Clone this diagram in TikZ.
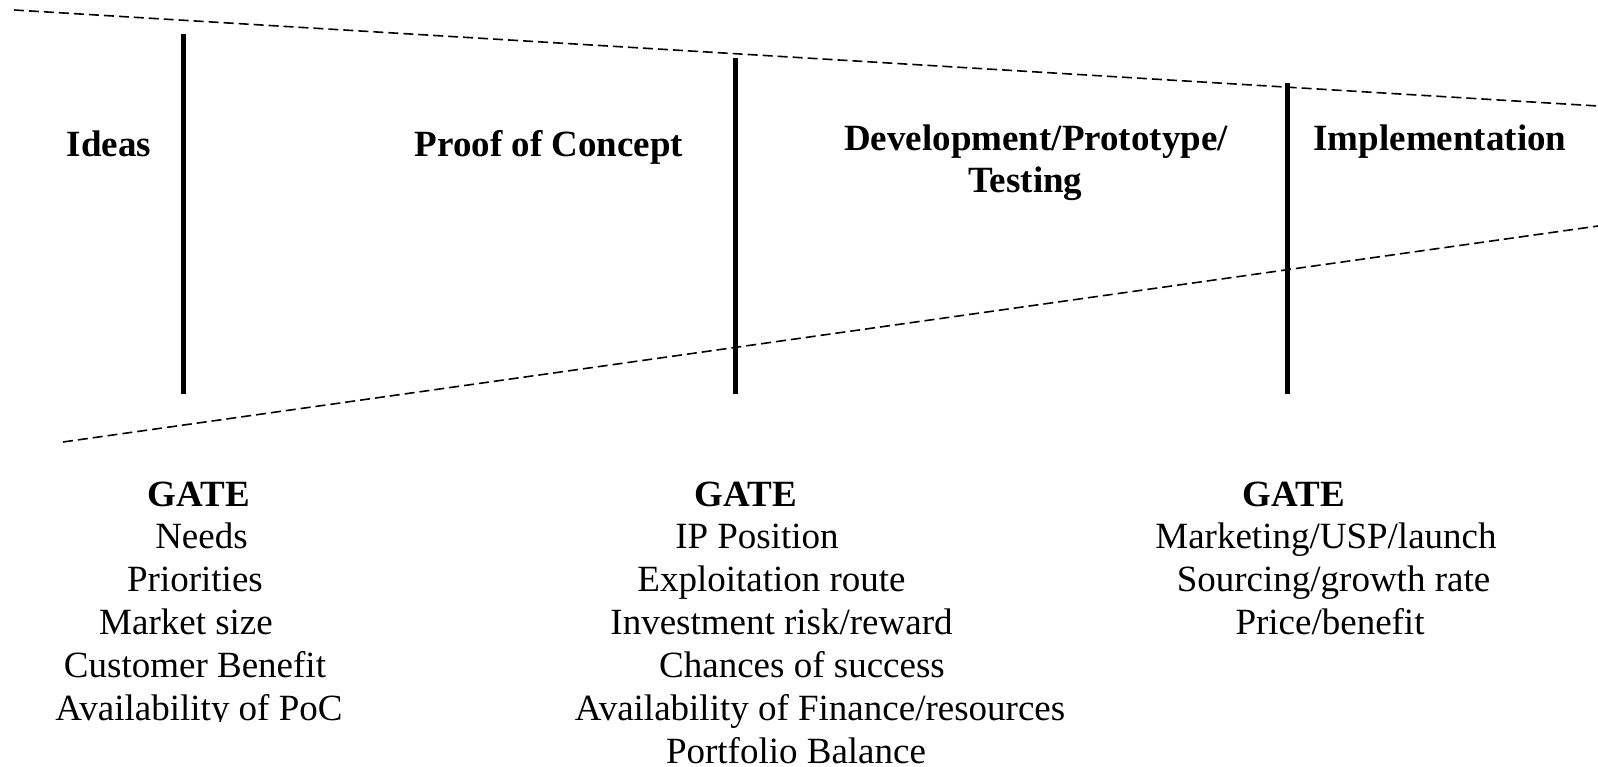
\documentclass[tikz,border=0pt]{standalone}
\usepackage{fontspec}
\setmainfont{Liberation Serif}
\begin{document}
\begin{tikzpicture}[x=1pt,y=-1pt,
  lbl/.style={anchor=base,inner sep=0pt,font=\fontsize{37}{42.6}\selectfont},
  head/.style={anchor=base,inner sep=0pt,font=\fontsize{37}{42.6}\selectfont\bfseries},
  gatebar/.style={line width=5pt},
  bound/.style={line width=1.6pt,dash pattern=on 10pt off 5pt}]
\useasboundingbox (0,0) rectangle (1598,767);
% funnel boundaries
\coordinate (tl) at (14,10);  \coordinate (tr) at (1598,106);
\coordinate (bl) at (63,442); \coordinate (br) at (1598,226);
\draw[bound] (tl) -- (tr);
\draw[bound] (bl) -- (br);
% gates
\coordinate (g1t) at (183.5,34); \coordinate (g1b) at (183.5,394);
\coordinate (g2t) at (735,58);   \coordinate (g2b) at (735,394);
\coordinate (g3t) at (1287.5,83); \coordinate (g3b) at (1287.5,394);
\draw[gatebar] (g1t) -- (g1b);
\draw[gatebar] (g2t) -- (g2b);
\draw[gatebar] (g3t) -- (g3b);
% stage titles
\node[head] (ideas) at (109,157) {Ideas};
\node[head] (poc) at (549,157) {Proof of Concept};
\node[head] (dev) at (1036,151) {Development/Prototype/};
\node[head] (test) at (1025.5,193) {Testing};
\node[head] (impl) at (1440,151) {Implementation};
% gate 1
\node[head] (gA) at (199,506) {GATE};
\node[lbl] (a1) at (201.5,548) {Needs};
\node[lbl] (a2) at (195,591) {Priorities};
\node[lbl] (a3) at (186,634) {Market size};
\node[lbl] (a4) at (195,677) {Customer Benefit};
\begin{scope}
\clip (0,682) rectangle (420,721);
\node[lbl] (a5) at (199,720) {Availability of PoC};
\end{scope}
% gate 2
\node[head] (gB) at (746,506) {GATE};
\node[lbl] (b1) at (757,548) {IP Position};
\node[lbl] (b2) at (771.5,591) {Exploitation route};
\node[lbl] (b3) at (781.5,634) {Investment risk/reward};
\node[lbl] (b4) at (802,677) {Chances of success};
\node[lbl] (b5) at (820,720) {Availability of Finance/resources};
\node[lbl] (b6) at (796,763) {Portfolio Balance};
% gate 3
\node[head] (gC) at (1294,506) {GATE};
\node[lbl] (c1) at (1326,548) {Marketing/USP/launch};
\node[lbl] (c2) at (1333.5,591) {Sourcing/growth rate};
\node[lbl] (c3) at (1330,634) {Price/benefit};
\end{tikzpicture}
\end{document}
